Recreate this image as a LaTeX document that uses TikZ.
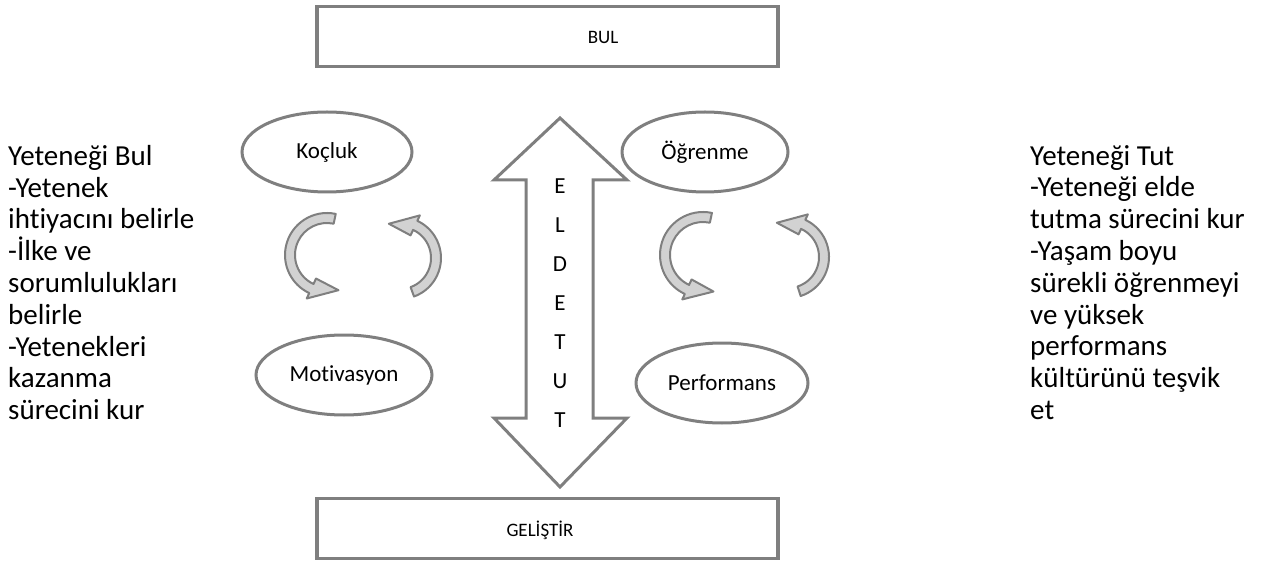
\documentclass[tikz,border=0pt]{standalone}
\usepackage{fontspec}
\setmainfont{Carlito}[Ligatures=NoCommon]
\usetikzlibrary{shapes.geometric,calc}
\definecolor{framegray}{HTML}{7F7F7F}
\definecolor{curlgray}{HTML}{D2D2D2}

% block arrow bent round a circle: cx, cy, radius, tail angle, head angle, tip angle
\newcommand{\curlarrow}[6]{%
  \pgfmathsetmacro{\curlout}{#3+5}\pgfmathsetmacro{\curlin}{#3-5}%
  \pgfmathsetmacro{\curlhout}{#3+11}\pgfmathsetmacro{\curlhin}{#3-11}%
  \draw[curl] ($(#1,#2)+(#4:\curlout pt)$) arc[start angle=#4,end angle=#5,radius=\curlout pt]
    -- ($(#1,#2)+(#5:\curlhout pt)$) -- ($(#1,#2)+(#6:#3pt)$) -- ($(#1,#2)+(#5:\curlhin pt)$)
    -- ($(#1,#2)+(#5:\curlin pt)$) arc[start angle=#5,end angle=#4,radius=\curlin pt] -- cycle;}

\begin{document}
\begin{tikzpicture}[x=1pt,y=1pt,
  bar/.style={draw=framegray,line width=3.5pt,minimum width=461pt,minimum height=60pt},
  ell/.style={ellipse,draw=framegray,line width=3pt,inner sep=0pt,minimum height=80pt,
    font=\fontsize{23}{27}\selectfont},
  side/.style={align=left,anchor=north west,inner sep=0pt,font=\fontsize{29}{31.8}\selectfont},
  curl/.style={draw=framegray,line width=2pt,fill=curlgray,line join=round}]
  \useasboundingbox (0,0) rectangle (1265,560);

  % top and bottom bars
  \node[bar] (bul) at (547.5,523.5) {};
  \node[font=\fontsize{19}{23}\selectfont] (bultxt) at (603,523) {BUL};
  \node[bar] (gelistir) at (547.5,31.5) {};
  \node[font=\fontsize{19}{23}\selectfont] (geltxt) at (540,30) {GELİŞTİR};

  % double arrow in the middle
  \draw[draw=framegray,line width=3pt,line join=miter]
    (560,442) -- (627,380) -- (593,380) -- (593,142) -- (627,142) -- (560,73)
    -- (494,142) -- (526,142) -- (526,380) -- (494,380) -- cycle;
  \node[align=center,font=\fontsize{23}{39}\selectfont] (eldetut) at (560,257) {E\\L\\D\\E\\T\\U\\T};

  % ellipses
  \node[ell,minimum width=170pt] (kocluk) at (327,408) {Koçluk};
  \node[ell,minimum width=166pt] (ogrenme) at (705,408) {Öğrenme};
  \node[ell,minimum width=176pt] (motivasyon) at (344,185) {Motivasyon};
  \node[ell,minimum width=172pt] (performans) at (722,177) {Performans};

  % round arrows
  \curlarrow{327}{305}{37}{78}{245}{288}
  \curlarrow{400}{302}{36}{-70}{65}{108}
  \curlarrow{703}{305}{38}{78}{245}{286}
  \curlarrow{788}{303}{36}{-72}{65}{108}

  % side texts
  \node[side] (bultext) at (8,415) {Yeteneği Bul\\-Yetenek\\ihtiyacını belirle\\-İlke ve\\sorumlulukları\\belirle\\-Yetenekleri\\kazanma\\sürecini kur};
  \node[side] (tuttext) at (1030,415) {Yeteneği Tut\\-Yeteneği elde\\tutma sürecini kur\\-Yaşam boyu\\sürekli öğrenmeyi\\ve yüksek\\performans\\kültürünü teşvik\\et};
\end{tikzpicture}
\end{document}
